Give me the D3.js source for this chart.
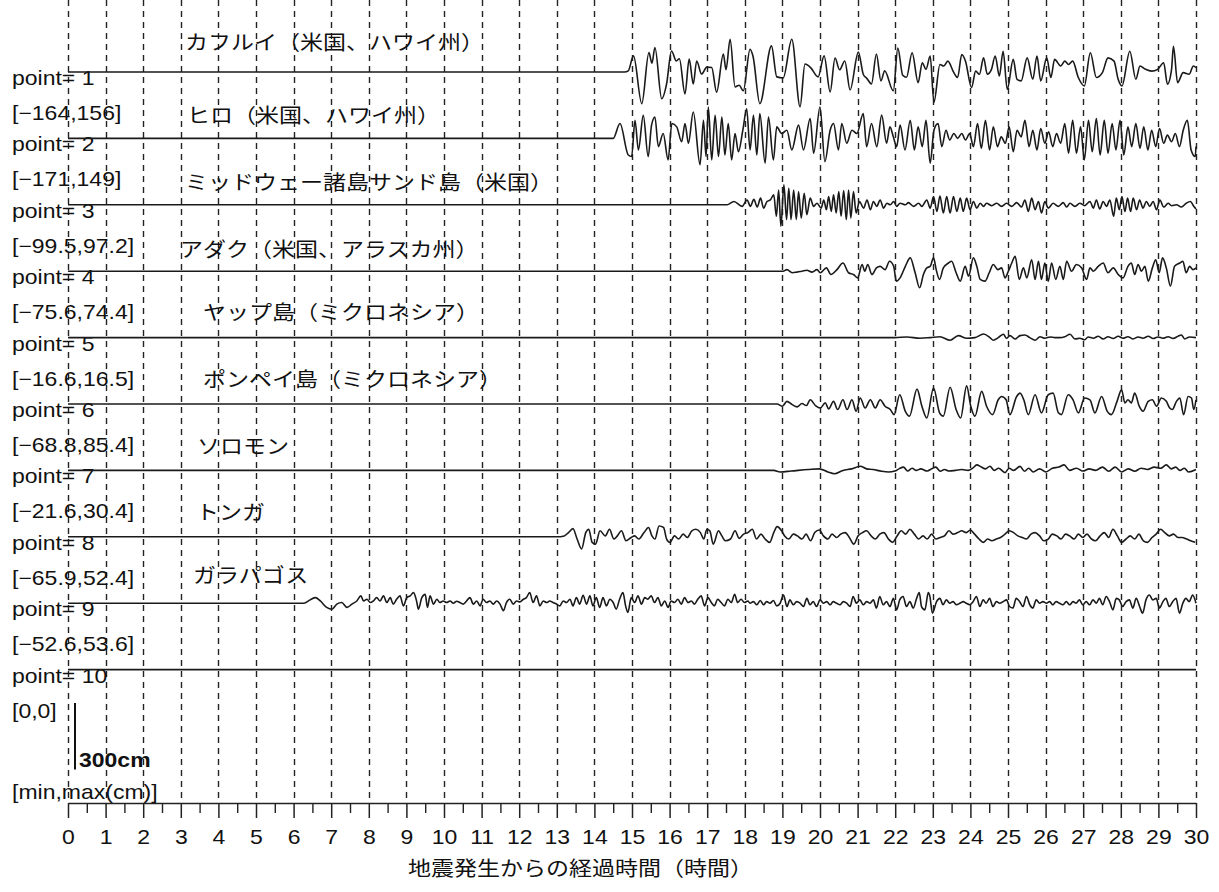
<!DOCTYPE html>
<html>
<head>
<meta charset="utf-8">
<script src="https://cdn.jsdelivr.net/npm/d3@7"></script>
<style>
  body { margin: 0; background: #fff; }
  svg { display: block; }
</style>
</head>
<body>
<div id="chart"></div>
<script>

// station names, top to bottom (point= 1 .. 9)
var stations = ["カフルイ（米国、ハワイ州）", "ヒロ（米国、ハワイ州）", "ミッドウェー諸島サンド島（米国）",
  "アダク（米国、アラスカ州）", "ヤップ島（ミクロネシア）", "ポンペイ島（ミクロネシア）",
  "ソロモン", "トンガ", "ガラパゴス"];

// [min,max] in cm, point= 1 .. 10
var rangeMin = [-164, -171, -99.5, -75.6, -16.6, -68.8, -21.6, -65.9, -52.6, 0];
var rangeMax = [156, 149, 97.2, 74.4, 16.5, 85.4, 30.4, 52.4, 53.6, 0];

var hourTicks = [0,1,2,3,4,5,6,7,8,9,10,11,12,13,14,15,16,17,18,19,20,21,22,23,24,25,26,27,28,29,30];

// waveforms: [hours after quake, sea level change in cm]
var kahului = [[0,0],[14.8,0],[14.9,5],[15.04,73],[15.26,-143],[15.45,88],[15.53,40],[15.61,111],[15.79,-121],[15.92,-54],
  [16.05,95],[16.18,50],[16.26,60],[16.41,-99],[16.52,58],[16.63,-54],[16.72,50],[16.85,-9],[16.99,22],[17.12,20],
  [17.25,-91],[17.43,81],[17.5,10],[17.61,148],[17.74,-67],[17.85,-60],[17.96,-85],[18.14,103],[18.22,70],[18.4,-143],
  [18.71,118],[18.85,-22],[19.02,-27],[19.25,148],[19.47,-157],[19.6,36],[19.75,20],[19.95,-22],[20.11,73],[20.27,-90],
  [20.4,63],[20.52,10],[20.66,50],[20.8,-81],[21.02,90],[21.15,-10],[21.25,-30],[21.37,-54],[21.5,81],[21.62,-40],
  [21.72,5],[21.95,-85],[22.07,108],[22.2,-15],[22.3,-24],[22.45,87],[22.61,-48],[22.72,42],[22.82,12],[22.93,72],
  [23.03,-137],[23.19,34],[23.29,27],[23.4,49],[23.56,-3],[23.66,-25],[23.77,79],[23.87,49],[24.03,-70],[24.14,4],
  [24.24,-10],[24.35,64],[24.45,-10],[24.56,12],[24.66,72],[24.77,-18],[24.87,94],[24.98,-78],[25.14,57],[25.24,-33],
  [25.35,-40],[25.51,64],[25.66,-33],[25.77,72],[25.87,-40],[26.03,64],[26.14,-25],[26.24,57],[26.4,27],[26.51,49],
  [26.61,34],[26.72,49],[26.87,-25],[27.03,-63],[27.19,87],[27.35,-25],[27.51,-3],[27.66,64],[27.82,49],[27.93,-33],
  [28.03,-63],[28.24,94],[28.4,-33],[28.51,27],[28.66,12],[28.82,4],[28.98,12],[29.14,42],[29.24,-55],[29.35,12],
  [29.4,116],[29.51,-48],[29.66,-3],[29.82,-10],[29.93,27],[30,20]];

var hilo = [[0,0],[14.5,0],[14.68,67],[14.9,-75],[14.99,-82],[15.08,82],[15.17,-52],[15.3,104],[15.43,-82],[15.52,60],
  [15.61,97],[15.7,-37],[15.83,22],[15.96,-97],[16.06,67],[16.19,52],[16.32,-15],[16.41,67],[16.5,-22],[16.63,119],
  [16.81,-119],[16.9,82],[16.97,-82],[17.03,142],[17.12,-97],[17.21,104],[17.3,-82],[17.39,97],[17.47,-75],[17.56,67],
  [17.65,-97],[17.74,22],[17.83,-60],[17.95,40],[18.05,134],[18.14,-52],[18.23,104],[18.32,-75],[18.4,112],[18.54,-112],
  [18.63,97],[18.76,-97],[18.85,52],[18.98,22],[19.12,37],[19.25,-52],[19.43,60],[19.56,-52],[19.74,90],[19.83,-67],
  [20.0,142],[20.13,-105],[20.27,37],[20.36,67],[20.49,-52],[20.58,67],[20.71,-22],[20.85,37],[20.98,22],[21.15,112],
  [21.24,-37],[21.37,67],[21.51,-37],[21.64,105],[21.77,-22],[21.86,52],[21.95,7],[22.04,-37],[22.13,60],[22.26,-52],
  [22.4,82],[22.51,-52],[22.61,52],[22.72,-37],[22.82,82],[22.93,-112],[23.03,37],[23.14,67],[23.24,-37],[23.35,37],
  [23.45,-7],[23.56,22],[23.66,0],[23.77,22],[23.87,-7],[23.98,22],[24.08,-37],[24.19,67],[24.29,-45],[24.4,82],
  [24.51,-52],[24.61,52],[24.72,-37],[24.82,7],[24.93,-22],[25.03,52],[25.14,-60],[25.24,37],[25.35,7],[25.45,82],
  [25.56,-37],[25.66,37],[25.77,-52],[25.87,45],[25.98,-22],[26.08,30],[26.19,-37],[26.29,22],[26.4,-22],[26.51,67],
  [26.61,-67],[26.72,82],[26.82,-67],[26.93,52],[27.03,-97],[27.14,82],[27.24,-60],[27.35,90],[27.45,-75],[27.56,82],
  [27.66,-67],[27.77,67],[27.87,-52],[27.98,82],[28.08,-75],[28.19,52],[28.29,-37],[28.4,67],[28.51,-45],[28.61,52],
  [28.72,-52],[28.82,37],[28.93,-37],[29.03,45],[29.14,-22],[29.24,15],[29.35,-15],[29.45,22],[29.56,-37],[29.66,37],
  [29.77,82],[29.87,-52],[29.98,-82],[30,-37]];

var midway = [[0,0],[17.53,0],[17.71,15],[17.93,-7],[18.06,22],[18.15,-7],[18.24,25],[18.33,-10],[18.42,30],[18.5,-15],
  [18.59,15],[18.68,22],[18.77,45],[18.84,-52],[18.9,67],[18.96,-97],[19.04,90],[19.11,-67],[19.17,75],[19.23,-67],
  [19.3,67],[19.37,-67],[19.43,60],[19.5,-60],[19.58,52],[19.65,-45],[19.74,30],[19.83,-7],[19.92,7],[20.03,-15],
  [20.1,22],[20.17,-22],[20.23,37],[20.3,-30],[20.36,45],[20.43,-37],[20.5,60],[20.56,-52],[20.63,64],[20.7,-67],
  [20.76,67],[20.82,-60],[20.89,60],[20.96,-37],[21.05,15],[21.16,-15],[21.25,22],[21.34,-22],[21.42,15],[21.51,-7],
  [21.6,22],[21.69,-15],[21.78,7],[21.87,0],[21.96,15],[22.04,-7],[22.13,7],[22.27,0],[22.35,10],[22.49,-7],
  [22.62,7],[22.71,-7],[22.84,22],[22.93,-15],[23.02,37],[23.11,-30],[23.19,40],[23.28,-37],[23.37,37],[23.46,-37],
  [23.55,37],[23.64,-30],[23.73,30],[23.81,-30],[23.9,30],[23.99,-22],[24.08,15],[24.17,-15],[24.26,7],[24.35,-7],
  [24.43,7],[24.57,-4],[24.7,7],[24.83,-7],[24.96,7],[25.1,-7],[25.23,10],[25.36,-10],[25.45,22],[25.54,-30],
  [25.63,30],[25.72,-22],[25.81,15],[25.89,-37],[25.98,15],[26.07,-15],[26.2,7],[26.34,-7],[26.47,10],[26.56,-10],
  [26.65,7],[26.78,-7],[26.91,7],[27.04,-4],[27.18,15],[27.27,-15],[27.35,22],[27.44,-19],[27.53,15],[27.62,-7],
  [27.71,22],[27.81,-52],[27.88,30],[27.96,-22],[28.03,37],[28.11,-30],[28.18,30],[28.26,-30],[28.33,30],[28.42,-22],
  [28.5,22],[28.59,-15],[28.68,15],[28.77,-7],[28.86,15],[28.95,-22],[29.04,22],[29.14,-10],[29.26,7],[29.35,-4],
  [29.48,0],[29.61,-10],[29.74,7],[29.85,15],[29.94,-7],[30,-19]];

var adak = [[0,0],[19.02,0],[19.12,7],[19.26,-7],[19.39,-4],[19.52,0],[19.65,4],[19.79,-4],[19.92,7],[20.01,-7],
  [20.17,15],[20.29,-15],[20.45,7],[20.61,37],[20.76,-7],[20.89,-15],[21.0,-30],[21.12,30],[21.19,0],[21.27,30],
  [21.38,-15],[21.5,15],[21.6,22],[21.73,7],[21.85,45],[21.96,22],[22.03,-45],[22.13,-30],[22.27,22],[22.4,60],
  [22.53,-7],[22.65,-75],[22.75,-15],[22.84,15],[22.93,22],[23.02,60],[23.09,7],[23.18,-37],[23.28,15],[23.42,37],
  [23.5,45],[23.62,-7],[23.73,-45],[23.86,22],[23.95,-22],[24.08,60],[24.17,22],[24.26,-37],[24.39,-45],[24.5,-7],
  [24.61,30],[24.73,7],[24.83,15],[24.92,-30],[25.01,0],[25.1,37],[25.19,67],[25.3,-37],[25.41,15],[25.5,-30],
  [25.63,52],[25.72,-37],[25.81,45],[25.89,-37],[25.98,37],[26.07,-45],[26.16,37],[26.27,-37],[26.38,22],[26.47,-37],
  [26.56,45],[26.69,0],[26.82,30],[26.96,15],[27.09,-37],[27.18,15],[27.27,0],[27.4,22],[27.53,37],[27.66,-7],
  [27.8,15],[27.93,-15],[28.06,-30],[28.19,22],[28.28,37],[28.37,-15],[28.46,30],[28.55,0],[28.64,22],[28.73,-45],
  [28.84,15],[28.93,52],[29.02,-7],[29.11,60],[29.21,15],[29.32,-67],[29.43,22],[29.57,37],[29.65,45],[29.74,-7],
  [29.83,22],[29.92,7],[30,15]];

var yap = [[0,0],[22.0,0],[22.31,3],[22.66,-3],[22.93,0],[23.19,4],[23.46,-12],[23.68,9],[23.9,-3],[24.12,0],
  [24.35,16],[24.52,0],[24.61,-12],[24.74,0],[24.88,15],[24.96,-3],[25.05,9],[25.19,-6],[25.32,9],[25.45,12],
  [25.58,0],[25.72,-12],[25.85,4],[25.98,-3],[26.12,3],[26.25,0],[26.38,0],[26.51,4],[26.65,15],[26.78,-6],
  [26.91,-3],[27.04,-10],[27.13,3],[27.27,-3],[27.4,6],[27.53,-6],[27.66,4],[27.8,-4],[27.93,6],[28.06,-3],
  [28.19,4],[28.33,-6],[28.46,3],[28.59,-3],[28.73,6],[28.86,-4],[28.99,3],[29.12,-3],[29.26,4],[29.39,-4],
  [29.52,6],[29.61,12],[29.7,-6],[29.83,3],[30,0]];

var pohnpei = [[0,0],[18.86,0],[19.0,-10],[19.12,12],[19.26,-3],[19.39,-13],[19.52,2],[19.64,-7],[19.74,19],[19.88,-7],
  [20.01,-18],[20.14,5],[20.23,-22],[20.36,12],[20.47,-25],[20.61,19],[20.72,-25],[20.85,19],[20.96,-33],[21.07,27],
  [21.2,-18],[21.34,19],[21.47,-18],[21.6,19],[21.73,-10],[21.87,-25],[21.97,-48],[22.12,42],[22.27,-33],[22.38,-55],
  [22.58,67],[22.71,-10],[22.84,-63],[23.02,72],[23.18,-40],[23.28,-55],[23.46,76],[23.62,-25],[23.74,-63],[23.9,82],
  [24.01,-10],[24.12,-55],[24.3,57],[24.43,-10],[24.59,-48],[24.74,19],[24.83,34],[24.95,19],[25.05,-48],[25.23,34],
  [25.32,49],[25.42,19],[25.54,-48],[25.72,42],[25.89,-40],[26.07,42],[26.2,49],[26.34,-40],[26.42,-48],[26.6,42],
  [26.73,19],[26.87,-40],[27.04,27],[27.18,19],[27.31,-40],[27.49,34],[27.64,-33],[27.75,-48],[27.9,12],[28.02,64],
  [28.11,5],[28.19,19],[28.28,5],[28.37,49],[28.49,-10],[28.59,-33],[28.73,12],[28.84,19],[28.95,-10],[29.08,27],
  [29.21,12],[29.3,-18],[29.37,-25],[29.48,12],[29.57,27],[29.67,-48],[29.79,34],[29.88,27],[29.94,-25],[30,19]];

var solomon = [[0,0],[18.77,0],[18.94,-7],[19.23,-3],[19.69,4],[19.98,7],[20.21,-7],[20.38,-15],[20.61,0],[20.84,7],
  [21.07,19],[21.24,7],[21.41,4],[21.64,-4],[21.82,-7],[21.99,-3],[22.1,7],[22.22,15],[22.33,-3],[22.45,10],
  [22.56,0],[22.68,7],[22.85,-3],[22.97,7],[23.08,15],[23.2,-4],[23.31,4],[23.43,-3],[23.6,0],[23.77,4],
  [23.94,0],[24.06,10],[24.17,25],[24.29,15],[24.4,7],[24.52,19],[24.63,0],[24.75,10],[24.92,-10],[25.03,10],
  [25.15,0],[25.32,18],[25.44,-4],[25.55,10],[25.67,-7],[25.84,7],[26.01,-7],[26.18,10],[26.36,15],[26.49,25],
  [26.64,0],[26.82,10],[26.99,-3],[27.16,7],[27.33,0],[27.51,15],[27.68,-4],[27.85,15],[28.02,-7],[28.2,7],
  [28.37,-4],[28.54,10],[28.71,4],[28.89,15],[29.06,10],[29.21,25],[29.34,7],[29.46,15],[29.57,0],[29.69,10],
  [29.8,-7],[30,4]];

var tonga = [[0,0],[13.0,0],[13.2,4],[13.31,19],[13.43,37],[13.54,-10],[13.66,-55],[13.77,19],[13.85,34],[13.94,-25],
  [14.03,-33],[14.15,27],[14.29,4],[14.4,34],[14.52,-10],[14.61,4],[14.72,27],[14.84,-18],[14.98,-3],[15.07,4],
  [15.18,-10],[15.32,19],[15.44,42],[15.53,4],[15.61,-10],[15.72,49],[15.84,42],[15.92,-10],[16.01,-25],[16.13,4],
  [16.24,-10],[16.36,12],[16.47,-3],[16.59,27],[16.7,34],[16.82,19],[16.91,-10],[16.99,34],[17.07,27],[17.16,-33],
  [17.3,27],[17.39,4],[17.48,-18],[17.62,-10],[17.74,27],[17.85,-7],[17.97,12],[18.08,19],[18.2,34],[18.31,-10],
  [18.43,12],[18.54,-10],[18.66,-25],[18.77,19],[18.86,46],[18.98,27],[19.06,4],[19.17,-10],[19.29,12],[19.4,4],
  [19.52,-10],[19.63,12],[19.75,-18],[19.86,19],[19.98,31],[20.09,4],[20.21,-10],[20.32,12],[20.44,-3],[20.55,12],
  [20.67,19],[20.78,-3],[20.9,-33],[21.01,4],[21.13,19],[21.24,27],[21.36,4],[21.47,-10],[21.59,12],[21.7,19],
  [21.82,-10],[21.93,-25],[22.05,4],[22.16,27],[22.28,12],[22.39,34],[22.51,12],[22.62,-10],[22.74,4],[22.85,-10],
  [22.97,12],[23.08,-10],[23.2,-3],[23.31,4],[23.43,27],[23.54,12],[23.66,19],[23.77,27],[23.89,19],[24.0,31],
  [24.11,12],[24.23,-10],[24.34,-25],[24.46,-10],[24.57,-18],[24.69,-10],[24.8,-3],[24.92,12],[25.03,27],[25.15,19],
  [25.26,4],[25.38,-3],[25.49,-10],[25.61,12],[25.72,19],[25.84,4],[25.95,-18],[26.07,-10],[26.18,12],[26.3,4],
  [26.41,-10],[26.53,12],[26.64,4],[26.76,-10],[26.87,12],[26.99,-3],[27.1,12],[27.22,-10],[27.33,-18],[27.45,4],
  [27.56,19],[27.68,-3],[27.79,34],[27.91,4],[28.02,-25],[28.14,-10],[28.25,4],[28.37,-10],[28.48,12],[28.6,-18],
  [28.71,-25],[28.83,-3],[28.94,12],[29.06,34],[29.17,19],[29.29,4],[29.4,12],[29.52,-3],[29.63,-3],[29.75,-10],
  [29.86,-18],[29.98,-25]];

var galapagos = [[0,0],[6.27,0],[6.44,15],[6.58,25],[6.71,10],[6.88,-19],[7.02,-27],[7.15,-4],[7.28,3],[7.42,-19],
  [7.55,-4],[7.68,10],[7.79,33],[7.86,10],[7.95,18],[8.04,3],[8.12,10],[8.21,25],[8.3,10],[8.39,33],
  [8.48,3],[8.57,25],[8.65,-4],[8.74,18],[8.83,33],[8.92,-12],[9.01,25],[9.1,33],[9.19,48],[9.27,10],
  [9.32,-27],[9.41,25],[9.5,40],[9.56,-19],[9.63,33],[9.72,-4],[9.81,18],[9.89,3],[9.98,10],[10.07,3],
  [10.16,10],[10.25,0],[10.34,9],[10.42,3],[10.51,-4],[10.6,10],[10.69,25],[10.78,-4],[10.87,10],[10.96,-12],
  [11.04,18],[11.13,3],[11.22,10],[11.31,-4],[11.4,10],[11.49,-4],[11.58,-34],[11.66,3],[11.75,18],[11.84,-4],
  [11.93,10],[12.02,6],[12.11,18],[12.19,25],[12.28,48],[12.37,3],[12.46,33],[12.55,-12],[12.64,10],[12.73,3],
  [12.81,10],[12.9,3],[12.99,-4],[13.08,-12],[13.17,10],[13.26,3],[13.35,18],[13.43,-12],[13.52,25],[13.61,-4],
  [13.7,36],[13.79,-4],[13.88,33],[13.96,-12],[14.05,25],[14.14,-19],[14.23,25],[14.32,-12],[14.41,18],[14.5,3],
  [14.58,-27],[14.67,18],[14.76,48],[14.83,-12],[14.89,-42],[14.98,25],[15.07,3],[15.16,33],[15.25,-4],[15.34,25],
  [15.42,18],[15.51,33],[15.6,3],[15.69,25],[15.78,-12],[15.87,10],[15.96,-19],[16.04,10],[16.13,3],[16.22,18],
  [16.31,-4],[16.4,25],[16.49,3],[16.58,10],[16.66,-4],[16.75,18],[16.84,33],[16.93,-12],[17.02,25],[17.11,3],
  [17.19,-12],[17.28,18],[17.37,3],[17.46,-12],[17.55,18],[17.64,3],[17.73,40],[17.81,3],[17.9,18],[17.99,3],
  [18.08,10],[18.14,0],[18.23,7],[18.32,-7],[18.41,12],[18.5,-7],[18.58,7],[18.67,0],[18.76,12],[18.85,-12],
  [18.94,0],[19.03,37],[19.12,-15],[19.2,15],[19.29,-7],[19.38,7],[19.47,0],[19.56,-15],[19.65,22],[19.73,-7],
  [19.82,7],[19.91,-15],[20.0,15],[20.09,0],[20.18,7],[20.27,-7],[20.35,7],[20.44,0],[20.53,-7],[20.62,7],
  [20.71,0],[20.8,-15],[20.88,30],[20.97,0],[21.06,15],[21.15,-7],[21.24,7],[21.33,0],[21.42,15],[21.5,-22],
  [21.59,30],[21.68,-7],[21.77,7],[21.86,-15],[21.95,22],[22.04,-30],[22.12,15],[22.21,30],[22.3,-15],[22.39,7],
  [22.48,-22],[22.57,22],[22.64,48],[22.7,-15],[22.79,-30],[22.88,48],[22.92,33],[22.99,-45],[23.1,7],[23.19,22],
  [23.27,-7],[23.36,15],[23.45,0],[23.54,7],[23.63,-7],[23.72,0],[23.81,7],[23.89,0],[23.98,-7],[24.07,7],
  [24.16,30],[24.25,-15],[24.34,15],[24.42,0],[24.51,22],[24.6,-15],[24.69,7],[24.78,0],[24.87,7],[24.96,15],
  [25.04,-15],[25.13,-22],[25.22,22],[25.31,7],[25.4,-15],[25.49,30],[25.58,-7],[25.66,-22],[25.75,15],[25.84,0],
  [25.93,7],[26.02,0],[26.11,7],[26.19,-7],[26.28,7],[26.37,0],[26.46,-7],[26.55,7],[26.64,-7],[26.73,7],
  [26.81,0],[26.9,15],[26.99,-7],[27.08,7],[27.17,-7],[27.26,15],[27.35,0],[27.43,22],[27.52,-7],[27.61,30],
  [27.7,7],[27.79,-30],[27.88,22],[27.96,15],[28.05,-15],[28.14,7],[28.23,15],[28.32,-22],[28.41,22],[28.5,-15],
  [28.58,-45],[28.67,15],[28.76,37],[28.85,15],[28.94,22],[29.03,-22],[29.12,7],[29.2,22],[29.29,-15],[29.38,7],
  [29.47,22],[29.56,-45],[29.65,0],[29.73,22],[29.82,7],[29.91,37],[30,0]];

var point10 = [[0,0],[30,0]];

var records = [kahului, hilo, midway, adak, yap, pohnpei, solomon, tonga, galapagos, point10];

// ---- layout ----
var width = 1219, height = 892;
var axisY = 803;
var stretch = " scale(1.15,1)";   // the original lettering is set wide
var sans = "'Liberation Sans', Arial, Helvetica, sans-serif";
var jp = "'Noto Sans CJK JP', 'Noto Sans CJK SC', sans-serif";
var nameX = [185, 187, 185, 180, 203, 203, 197, 196, 193];
var nameLift = [22, 15, 15, 14, 18, 17, 16, 17, 20];

var svg = d3.select("#chart").append("svg")
    .attr("width", width)
    .attr("height", height);

var x = d3.scaleLinear().domain([0, 30]).range([68, 1196]);
var row = d3.scaleLinear().domain([1, 10]).range([72, 669.6]);
var amp = d3.scaleLinear().domain([0, 300]).range([0, 66.4]);   // 300 cm = one row

// dashed hour lines
svg.append("g")
  .selectAll("line")
  .data(hourTicks)
  .join("line")
    .attr("x1", function(d) { return Math.round(x(d)) + 0.5; })
    .attr("x2", function(d) { return Math.round(x(d)) + 0.5; })
    .attr("y1", 0)
    .attr("y2", axisY)
    .attr("stroke", "#222")
    .attr("stroke-width", 1.4)
    .attr("stroke-dasharray", "6,5");

function addText(txt, px, py, family, size) {
  return svg.append("text")
    .attr("transform", "translate(" + px + "," + py + ")" + stretch)
    .style("font-family", family)
    .style("font-size", size + "px")
    .attr("fill", "#111")
    .text(txt);
}

function fmt(v) { return String(v).replace("-", "\u2212"); }

// left hand labels
records.forEach(function(r, i) {
  var k = i + 1;
  addText("point= " + k, 12, row(k) + 13, sans, 20);
  addText("[" + fmt(rangeMin[i]) + "," + fmt(rangeMax[i]) + "]", 12, row(k) + 48, sans, 20);
});
addText("[min,max(cm)]", 12, 799, sans, 20);

// station names
stations.forEach(function(s, i) {
  addText(s, nameX[i], row(i + 1) - nameLift[i], jp, 20);
});

// traces
var line = d3.line()
    .x(function(d) { return x(d[0]); })
    .y(function(d) { return -amp(d[1]); })
    .curve(d3.curveMonotoneX);

records.forEach(function(r, i) {
  svg.append("path")
    .attr("transform", "translate(0," + row(i + 1) + ")")
    .attr("d", line(r))
    .attr("fill", "none")
    .attr("stroke", "#1a1a1a")
    .attr("stroke-width", 1.6)
    .attr("stroke-linejoin", "round");
});

// 300 cm scale bar
var barTop = 703;
svg.append("line")
  .attr("x1", 75).attr("x2", 75)
  .attr("y1", barTop).attr("y2", barTop + amp(300))
  .attr("stroke", "#111")
  .attr("stroke-width", 2);
addText("300cm", 79, 767, sans, 20).style("font-weight", "bold");

// time axis
var xAxis = d3.axisBottom(x)
    .tickValues(hourTicks)
    .tickSize(15)
    .tickSizeOuter(0)
    .tickFormat(d3.format("d"));

var minorAxis = d3.axisBottom(x)
    .tickValues(hourTicks.slice(0, 30).map(function(h) { return h + 0.5; }))
    .tickSize(10)
    .tickSizeOuter(0)
    .tickFormat("");

var gMinor = svg.append("g")
    .attr("transform", "translate(0," + axisY + ")")
    .call(minorAxis);
gMinor.select(".domain").remove();
gMinor.selectAll(".tick line").attr("stroke", "#222").attr("stroke-width", 1.4);

var gAxis = svg.append("g")
    .attr("transform", "translate(0," + axisY + ")")
    .call(xAxis);
gAxis.select(".domain").attr("stroke", "#222").attr("stroke-width", 1.5);
gAxis.selectAll(".tick line").attr("stroke", "#222").attr("stroke-width", 1.5);
gAxis.selectAll(".tick text")
    .attr("y", 41)
    .attr("dy", null)
    .attr("transform", stretch)
    .attr("fill", "#111")
    .style("font-family", sans)
    .style("font-size", "20px");

addText("地震発生からの経過時間（時間）", 408, 876, jp, 20);

</script>
</body>
</html>
